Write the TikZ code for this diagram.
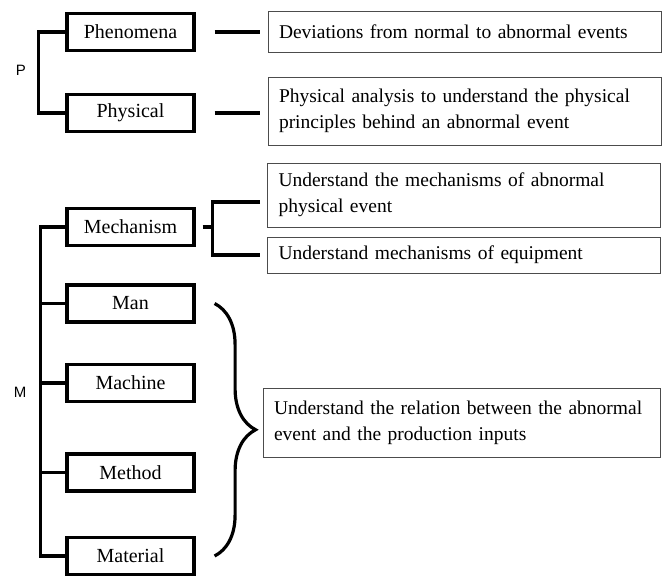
\documentclass[tikz,border=0pt]{standalone}
\usepackage{fontspec}
\setmainfont{Liberation Serif}
\setsansfont{Liberation Sans}
\usetikzlibrary{decorations.pathreplacing}
\begin{document}
\begin{tikzpicture}[x=1pt,y=-1pt,
    cat/.style={draw,line width=3.2pt,minimum width=127pt,minimum height=37pt,inner sep=0pt,font=\fontsize{20}{26}\selectfont},
    desc/.style={draw=black!70,line width=1pt,inner xsep=11pt,inner ysep=0pt,align=left,font=\fontsize{19.5}{26}\selectfont},
    conn/.style={line width=3.2pt},
    lab/.style={font=\sffamily\fontsize{15}{18}\selectfont}]
    \useasboundingbox (0,0) rectangle (662,576);

    % left column
    \node (phen) at (130.5,32) [cat] {Phenomena};
    \node (phys) at (130.5,113) [cat] {Physical};
    \node (mech) at (130.5,227) [cat] {Mechanism};
    \node (man) at (130.5,303.5) [cat] {Man};
    \node (mach) at (130.5,383) [cat] {Machine};
    \node (meth) at (130.5,472.5) [cat] {Method};
    \node (mat) at (130.5,556) [cat] {Material};

    \node (labP) at (21,70) [lab] {P};
    \node (labM) at (20,392) [lab] {M};

    % right column
    \node (d1) at (464.5,31.5) [desc,text width=371pt,minimum height=41pt] {Deviations from normal to abnormal events};
    \node (d2) at (464.5,111) [desc,text width=371pt,minimum height=68pt] {Physical analysis to understand the physical\\principles behind an abnormal event};
    \node (d3) at (464,195) [desc,text width=371pt,minimum height=64pt] {Understand the mechanisms of abnormal\\physical event};
    \node (d4) at (464,255) [desc,text width=371pt,minimum height=36pt] {Understand mechanisms of equipment};
    \node (d5) at (461.5,422.5) [desc,text width=375pt,minimum height=69pt] {Understand the relation between the abnormal\\event and the production inputs};

    % brackets
    \draw[conn] (phen.west) -- ++(-27,0) |- (phys.west);
    \draw[conn] (mech.west) -- ++(-25,0) |- (mat.west);
    \foreach \n in {man,mach,meth} {
      \draw[conn] (\n.west) -- ++(-25,0);
    }

    \draw[conn] ([xshift=19pt]phen.east) -- ([xshift=-8pt]d1.west |- phen.east);
    \draw[conn] ([xshift=19pt]phys.east) -- ([xshift=-8pt]d2.west |- phys.east);

    \draw[conn] ([xshift=7pt]mech.east) -- ++(10,0) coordinate (fork);
    \draw[conn] ([xshift=-7pt,yshift=-7pt]d3.west) -| (fork) |- ([xshift=-7pt]d4.west);

    \draw[conn,decorate,decoration={brace,amplitude=41pt}] ([xshift=19pt]man.east) -- ([xshift=19pt]mat.east);
\end{tikzpicture}
\end{document}
